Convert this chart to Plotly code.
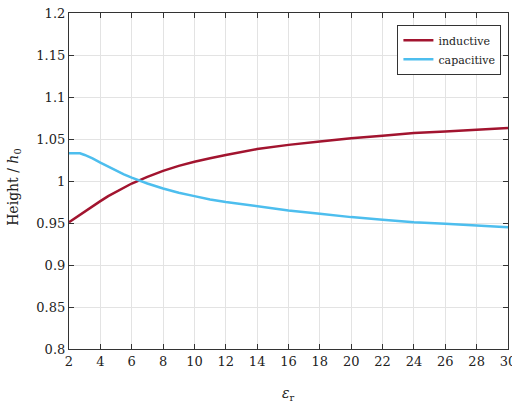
import plotly.graph_objects as go

# Relative permittivity values
eps_r = [2, 2.7, 3, 3.5, 4, 4.5, 5, 5.5, 6, 7, 8, 9, 10, 11, 12, 14, 16, 18, 20,
         22, 24, 26, 28, 30]

# Normalised height for each coupling type
inductive = [0.951, 0.960, 0.964, 0.970, 0.976, 0.982, 0.987, 0.992, 0.997, 1.005,
             1.012, 1.018, 1.023, 1.027, 1.031, 1.038, 1.043, 1.047, 1.051,
             1.054, 1.057, 1.059, 1.061, 1.063]
capacitive = [1.033, 1.033, 1.031, 1.027, 1.022, 1.017, 1.012, 1.008, 1.004, 0.997,
              0.991, 0.986, 0.982, 0.978, 0.975, 0.970, 0.965, 0.961, 0.957,
              0.954, 0.951, 0.949, 0.947, 0.945]

x_ticks = list(range(2, 31, 2))
y_ticks = [0.8, 0.85, 0.9, 0.95, 1.0, 1.05, 1.1, 1.15, 1.2]
y_labels = ["0.8", "0.85", "0.9", "0.95", "1", "1.05", "1.1", "1.15", "1.2"]

FONT = "DejaVu Serif"
RED = "#A2142F"
BLUE = "#4DBEEE"

fig = go.Figure()
fig.add_trace(go.Scatter(x=eps_r, y=inductive, mode="lines", name="inductive",
                         line=dict(color=RED, width=2.5)))
fig.add_trace(go.Scatter(x=eps_r, y=capacitive, mode="lines", name="capacitive",
                         line=dict(color=BLUE, width=2.5)))

axis_common = dict(
    showline=True, linecolor="#333333", linewidth=1.2, mirror="ticks",
    ticks="inside", ticklen=5, tickwidth=1, tickcolor="#333333",
    showgrid=True, gridcolor="#e3e3e3", gridwidth=1, zeroline=False,
    tickfont=dict(family=FONT, size=13, color="#222222"),
    ticklabeloverflow="allow", automargin=False,
)

fig.update_layout(
    width=512, height=405,
    margin=dict(l=69, r=4, t=13, b=56),
    paper_bgcolor="white", plot_bgcolor="white",
    font=dict(family=FONT, color="#222222"),
    xaxis=dict(range=[2, 30], tickvals=x_ticks, **axis_common),
    yaxis=dict(range=[0.8, 1.2], tickvals=y_ticks, ticktext=y_labels, **axis_common),
    legend=dict(x=0.985, y=0.965, xanchor="right", yanchor="top",
                bgcolor="white", bordercolor="#333333", borderwidth=1,
                font=dict(family=FONT, size=11, color="#222222"),
                tracegroupgap=0, itemwidth=30),
    showlegend=True,
)

# Axis titles
fig.add_annotation(text="<i>ε</i><sub>r</sub>", xref="paper", yref="paper",
                   x=0.5, y=-0.1, yanchor="top", showarrow=False,
                   font=dict(family=FONT, size=14, color="#222222"))
fig.add_annotation(text="Height / <i>h</i><sub>0</sub>", xref="paper", yref="paper",
                   x=-0.125, y=0.48, xanchor="center", yanchor="middle", textangle=-90,
                   showarrow=False, font=dict(family=FONT, size=14, color="#222222"))

fig.write_html("out.html")
